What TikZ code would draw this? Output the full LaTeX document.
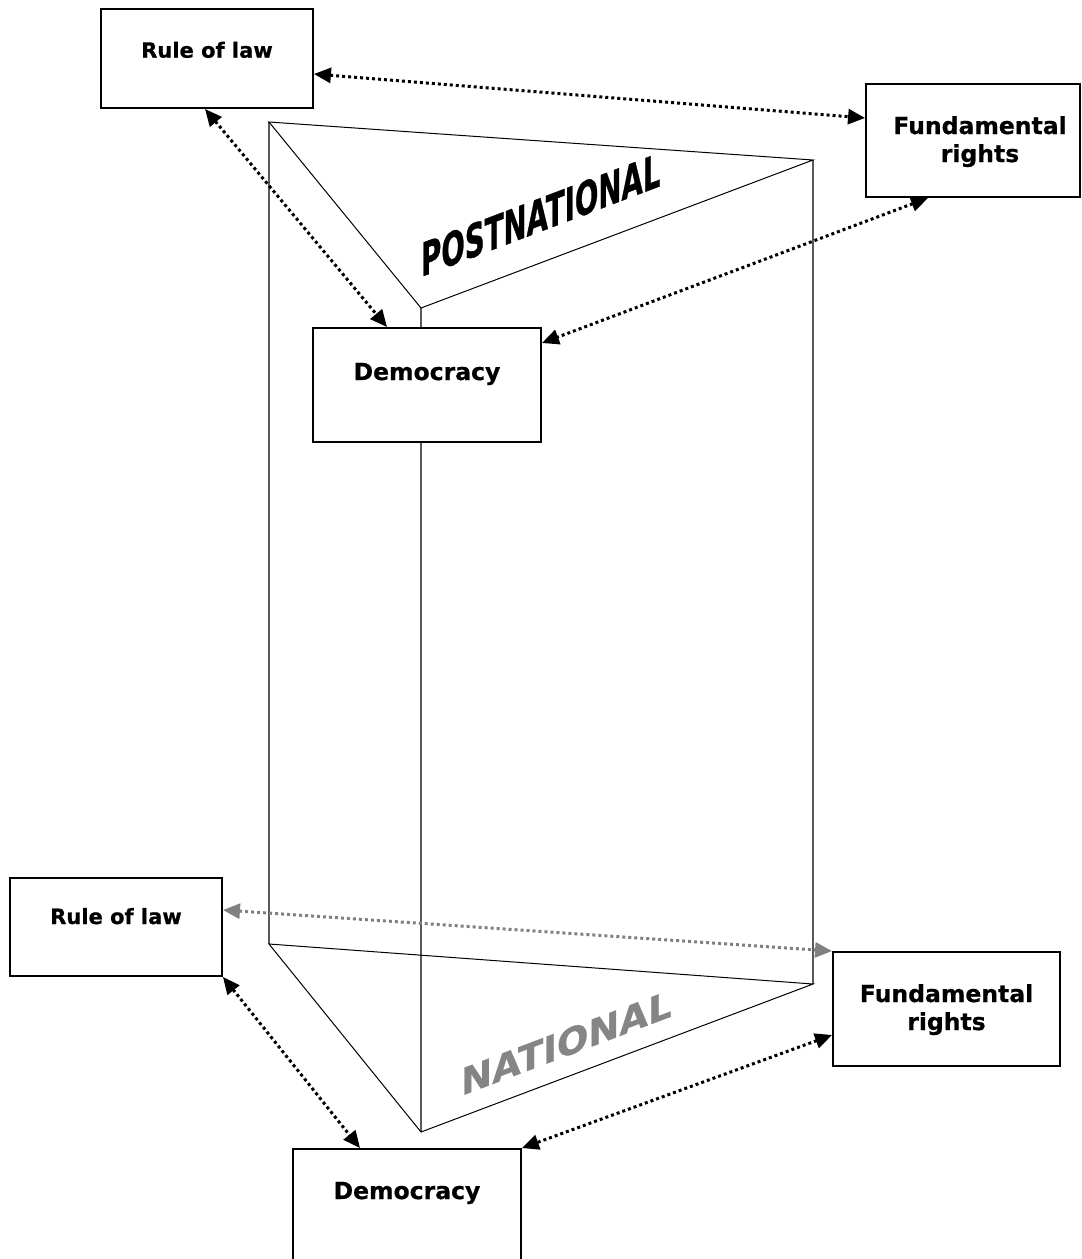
\documentclass[tikz,border=0pt]{standalone}
\usepackage{fontspec}
\setmainfont{DejaVu Sans}[FakeBold=0.6]
\newfontfamily\pnfont[FakeBold=1]{DejaVu Sans}
\newfontfamily\natfont[FakeBold=0.8]{DejaVu Sans}
\usetikzlibrary{arrows.meta,calc}
\begin{document}
\begin{tikzpicture}[x=1pt,y=-1pt,
  box/.style={draw, line width=1.9pt, fill=white, rectangle, inner sep=0pt},
  lbl/.style={font=\bfseries\fontsize{23.5}{28}\selectfont, align=center, inner sep=0pt, anchor=base},
  lblsmall/.style={font=\bfseries\fontsize{21}{25}\selectfont, inner sep=0pt, anchor=base},
  link/.style={line width=3pt, dash pattern=on 3pt off 3pt,
    {Triangle[length=17pt,width=15pt]}-{Triangle[length=17pt,width=15pt]}},
  pedge/.style={line width=1pt},
  vedge/.style={line width=1.3pt, black!65}]
\useasboundingbox (0,0) rectangle (1082,1259);
\clip (0,0) rectangle (1082,1259);

% prism
\coordinate (A) at (269,122);
\coordinate (B) at (813,160);
\coordinate (C) at (421,308);
\coordinate (A2) at (269,944);
\coordinate (B2) at (813,984);
\coordinate (C2) at (421,1132);
\draw[vedge] (A) -- (A2);
\draw[vedge] (B) -- (B2);
\draw[vedge] (C) -- (C2);
\draw[pedge] (A) -- (B) -- (C) -- cycle;
\draw[pedge] (A2) -- (B2) -- (C2) -- cycle;

% slanted titles
\begin{scope}[shift={(421,277)}, cm={0.6,0.228,0,1,(0,0)}]
  \node[transform shape, anchor=base west, inner sep=0pt,
    font=\pnfont\bfseries\fontsize{46}{46}\selectfont] (pn) at (0,0) {POSTNATIONAL};
\end{scope}
\begin{scope}[shift={(461,1096)}, cm={1,0.378,0,1,(0,0)}]
  \node[transform shape, anchor=base west, inner sep=0pt, text=black!48,
    font=\natfont\bfseries\fontsize{37}{37}\selectfont] (nat) at (0,0) {NATIONAL};
\end{scope}

% boxes
\node[box, minimum width=212pt, minimum height=99pt] (rl1) at (207,58.5) {};
\node[box, minimum width=214pt, minimum height=113pt] (fr1) at (973,140.5) {};
\node[box, minimum width=228pt, minimum height=114pt] (dm1) at (427,385) {};
\node[box, minimum width=212pt, minimum height=98pt] (rl2) at (116,927) {};
\node[box, minimum width=227pt, minimum height=114pt] (fr2) at (946.5,1009) {};
\node[box, minimum width=228pt, minimum height=121pt] (dm2) at (407,1209.5) {};

\node[lblsmall] (trl1) at (207,57.7) {Rule of law};
\node[lbl] (tfr1) at (980,162) {Fundamental\\rights};
\node[lbl] (tdm1) at (427,380) {Democracy};
\node[lblsmall] (trl2) at (116,924) {Rule of law};
\node[lbl] (tfr2) at (946.5,1030) {Fundamental\\rights};
\node[lbl] (tdm2) at (407,1199) {Democracy};

% connectors
\draw[link] ([yshift=-15.5pt]rl1.east) -- ([yshift=22.5pt]fr1.west);
\draw[link] ([xshift=-2pt]rl1.south) -- ([xshift=-40pt]dm1.north);
\draw[link] ([xshift=-45pt]fr1.south) -- ([yshift=42pt]dm1.east);
\draw[link, gray] ([yshift=17pt]rl2.east) -- (fr2.north west);
\draw[link] (rl2.south east) -- ([xshift=-47pt]dm2.north);
\draw[link] ([yshift=-26pt]fr2.west) -- (dm2.north east);
\end{tikzpicture}
\end{document}
